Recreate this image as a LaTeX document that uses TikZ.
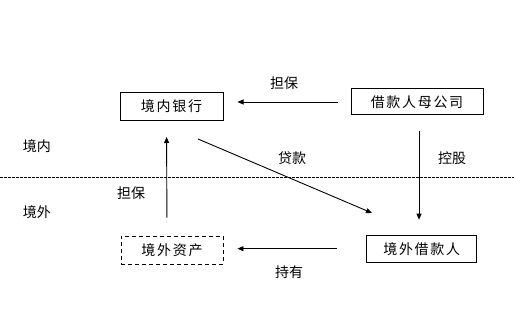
\documentclass[tikz,border=0pt]{standalone}
\usepackage{fontspec}
\usepackage{tikz}
\usetikzlibrary{arrows.meta}
\newfontfamily\cjk{Noto Sans CJK SC}
\newfontfamily\cjkbox[LetterSpace=12]{Noto Sans CJK SC}
\tikzset{
  ar/.style={-{Triangle[length=6pt,width=5pt]},line width=0.9pt},
  box/.style={draw,line width=1pt,minimum height=28pt,inner sep=0pt,font=\cjkbox\fontsize{14}{14}\selectfont},
  dbox/.style={box,line width=0.9pt,dash pattern=on 4pt off 3pt},
  lbl/.style={font=\cjk\fontsize{14}{14}\selectfont,inner sep=1pt}
}
\begin{document}
\begin{tikzpicture}[x=1pt,y=-1pt]
\useasboundingbox (0,0) rectangle (514,320);
% boxes
\node[box,minimum width=103pt] (bank) at (171.5,106.5) {境内银行};
\node[box,minimum width=132pt,minimum height=26pt] (parent) at (417,102) {借款人母公司};
\node[dbox,minimum width=102pt] (asset) at (172,250) {境外资产};
\node[box,minimum width=110pt,minimum height=27pt] (borrower) at (421.7,248.7) {境外借款人};
% border line
\draw[line width=0.8pt,dash pattern=on 2.5pt off 1.5pt] (0,177) -- (514,177);
\node[lbl] (inside) at (37,146) {境内};
\node[lbl] (outside) at (37,212) {境外};
% arrows
\draw[ar,shorten <=13pt,shorten >=14pt] (parent.west) -- (bank.east |- parent.west);
\node[lbl] (gtop) at (284,83) {担保};
\draw[ar,shorten <=18pt,shorten >=16pt] ([xshift=-5pt]asset.north) -- ([xshift=-5pt]bank.south);
\node[lbl] (gleft) at (131,193) {担保};
\coordinate (d1) at (198,139);
\coordinate (d2) at (372,213);
\draw[ar] (d1) -- (d2);
\node[lbl] (loan) at (292,158) {贷款};
\draw[ar,shorten <=16pt,shorten >=15pt] ([xshift=2pt]parent.south) -- ([xshift=2pt]parent.south |- borrower.north);
\node[lbl] (ctrl) at (452,158) {控股};
\draw[ar,shorten <=29pt,shorten >=14pt] (borrower.west) -- (asset.east |- borrower.west);
\node[lbl] (hold) at (289,272) {持有};
\end{tikzpicture}
\end{document}
